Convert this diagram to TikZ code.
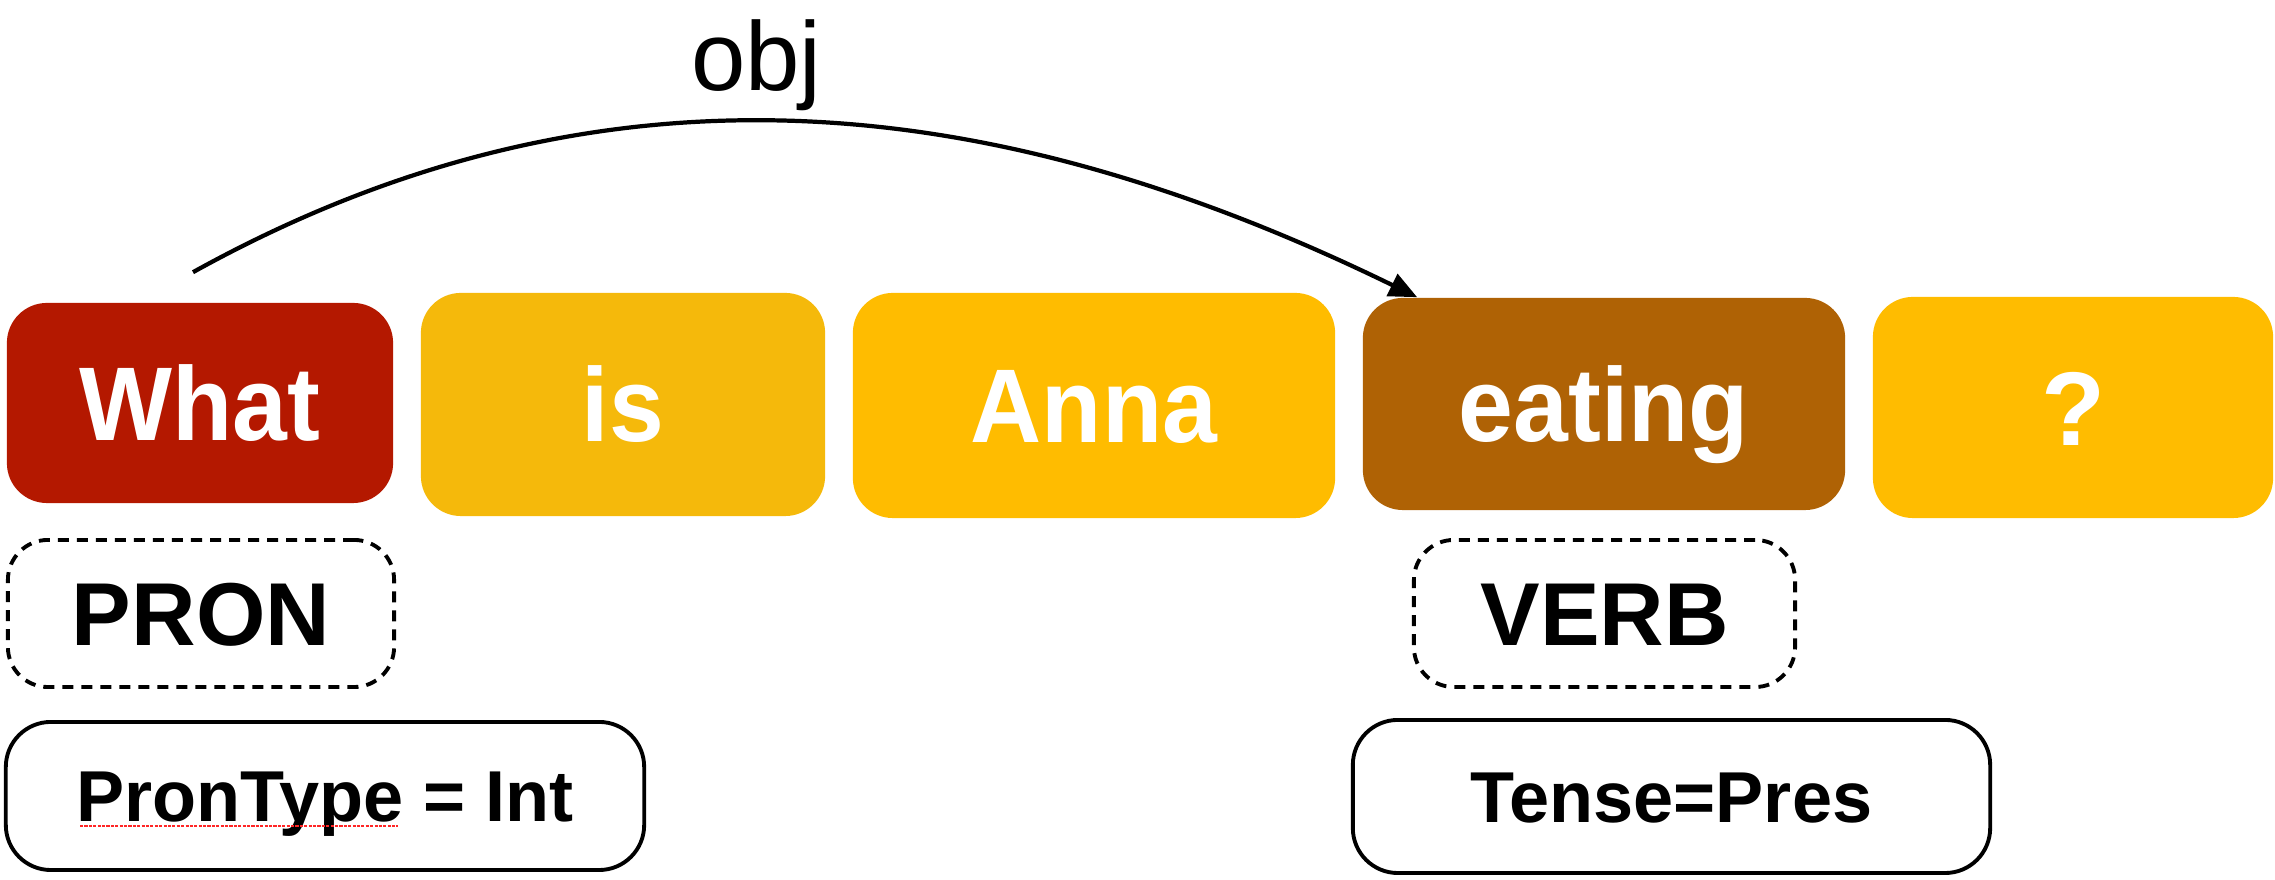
\documentclass[tikz,border=0pt]{standalone}
\usepackage{fontspec}
\setmainfont{Liberation Sans}
\usepackage{graphicx}
\usetikzlibrary{arrows.meta}
\definecolor{whatred}{HTML}{B41800}
\definecolor{isgold}{HTML}{F5B90B}
\definecolor{tokgold}{HTML}{FFBC00}
\definecolor{verbbrown}{HTML}{AF6205}
\newcommand{\narrow}[1]{\scalebox{0.94}[1]{#1}}
\tikzset{
  word/.style={rounded corners=0.4cm, inner sep=0pt, text=white,
    font=\fontsize{29.8}{34}\selectfont\bfseries, text height=0.75cm, text depth=0pt},
  upos/.style={draw=black, line width=1.1pt, dash pattern=on 0.11cm off 0.08cm,
    rounded corners=0.4cm, inner sep=0pt, minimum height=1.47cm,
    font=\fontsize{25.4}{30}\selectfont\bfseries, text height=0.64cm, text depth=0pt},
  feat/.style={draw=black, line width=1.1pt, rounded corners=0.45cm, inner sep=0pt,
    font=\fontsize{20.5}{25}\selectfont\bfseries, text height=0.52cm, text depth=0pt},
  deparr/.style={black, line width=1.2pt, -{Triangle[length=2.8mm,width=2.4mm]}},
  spellmark/.style={red!85!white, line width=0.6pt, dash pattern=on 0.9pt off 0.35pt},
}
\begin{document}
\begin{tikzpicture}[x=0.01cm, y=0.01cm]
  \useasboundingbox (0,0) rectangle (2275,880);
  % tokens
  \node[word, fill=whatred, minimum width=3.86cm, minimum height=2cm] (what) at (200,477) {\narrow{What}};
  \node[word, fill=isgold, minimum width=4.04cm, minimum height=2.23cm] (is) at (623,475.5) {\narrow{is}};
  \node[word, fill=tokgold, minimum width=4.82cm, minimum height=2.25cm] (anna) at (1094,474.5) {\narrow{Anna}};
  \node[word, fill=verbbrown, minimum width=4.82cm, minimum height=2.12cm] (eat) at (1604,476) {\narrow{eating}};
  \node[word, fill=tokgold, minimum width=4cm, minimum height=2.21cm] (qm) at (2073,472.5) {?};
  % part-of-speech tags
  \node[upos, minimum width=3.86cm] (pron) at (201,266.5) {PRON};
  \node[upos, minimum width=3.81cm] (verb) at (1604.5,266.5) {VERB};
  % features
  \node[feat, minimum width=6.38cm, minimum height=1.48cm] (ptype) at (325,84) {PronType = Int};
  \node[feat, minimum width=6.37cm, minimum height=1.53cm] (tense) at (1671.5,83.5) {Tense=Pres};
  \draw[spellmark] (80,54) -- (398,54);
  % dependency arc
  \coordinate (depfrom) at ([xshift=-0.07cm,yshift=0.3cm]what.north);
  \draw[deparr] (depfrom) to[out=29, in=154, out distance=4.9cm, in distance=4.4cm]
    node[pos=0.45, anchor=base, yshift=0.31cm, font=\fontsize{27.8}{32}\selectfont] {obj}
    ([xshift=0.55cm]eat.north west);
\end{tikzpicture}
\end{document}
